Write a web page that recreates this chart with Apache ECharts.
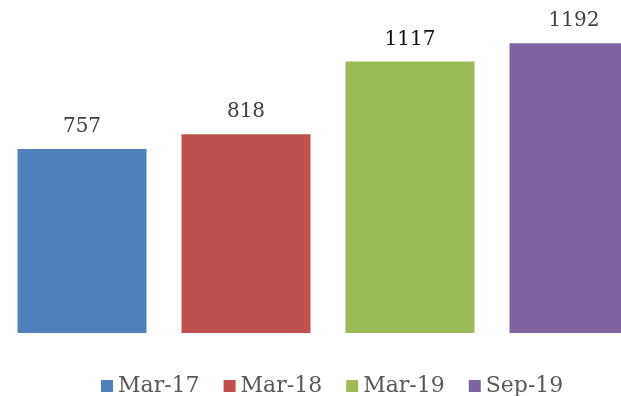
<!DOCTYPE html>
<html>
<head>
<meta charset="utf-8">
<script src="https://cdn.jsdelivr.net/npm/echarts@6/dist/echarts.min.js"></script>
<style>
  html, body { margin: 0; padding: 0; background: #ffffff; overflow: hidden; }
  /* chart surface is wider than the window so the last bar runs off the right edge */
  #chart { width: 656px; height: 396px; }
</style>
</head>
<body>
<div id="chart"></div>
<script>
// Period labels and their totals
const categories = ['Mar-17', 'Mar-18', 'Mar-19', 'Sep-19'];
const values = [757, 818, 1117, 1192];
const colors = ['#4F81BD', '#C0504D', '#9BBB59', '#8064A2'];
const labelColors = ['#404040', '#404040', '#111111', '#404040'];

const FONT = '"DejaVu Serif", "Liberation Serif", serif';

// One series per period so each gets its own legend entry; bars share the category slot
const series = categories.map((name, i) => ({
  name: name,
  type: 'bar',
  barWidth: 129,
  barGap: '-100%',
  itemStyle: { color: colors[i] },
  label: {
    show: true,
    position: 'top',
    distance: 12,
    fontFamily: FONT,
    fontSize: 20,
    color: labelColors[i]
  },
  data: categories.map((c, j) => (j === i ? values[i] : '-'))
}));

const chart = echarts.init(document.getElementById('chart'), null, { renderer: 'canvas' });
chart.setOption({
  animation: false,
  backgroundColor: '#ffffff',
  grid: { left: 0, width: 656, top: 0, height: 333, containLabel: false },
  xAxis: {
    type: 'category',
    data: categories,
    show: false
  },
  yAxis: {
    type: 'value',
    min: 0,
    max: 1370,
    show: false
  },
  legend: {
    data: categories,
    left: 96,
    top: 370,
    itemWidth: 12,
    itemHeight: 12,
    itemGap: 24,
    icon: 'rect',
    textStyle: { fontFamily: FONT, fontSize: 22, color: '#595959', padding: [0, 0, 0, 0] }
  },
  series: series
});
</script>
</body>
</html>
